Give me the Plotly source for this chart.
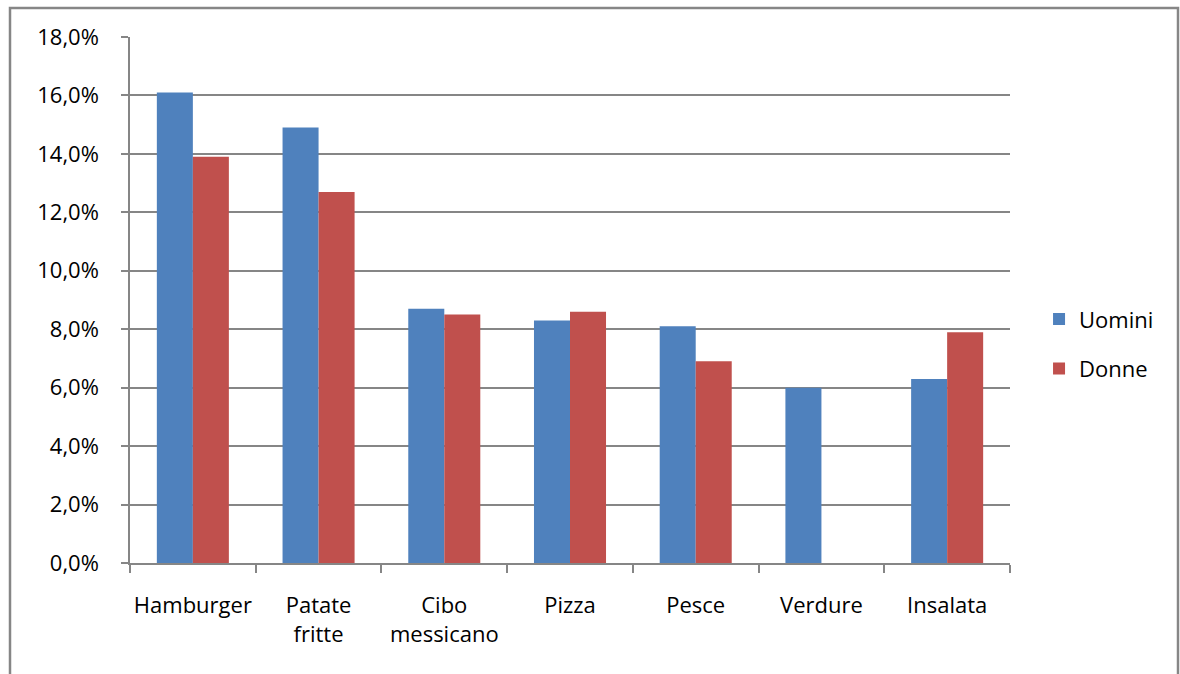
import plotly.graph_objects as go

categories = ["Hamburger", "Patate<br>fritte", "Cibo<br>messicano", "Pizza", "Pesce", "Verdure", "Insalata"]
uomini = [0.161, 0.149, 0.087, 0.083, 0.081, 0.060, 0.063]
donne = [0.139, 0.127, 0.085, 0.086, 0.069, None, 0.079]

BLUE = "#4F81BD"
RED = "#C0504D"
GRID = "#868686"
FONT = "Open Sans"

fig = go.Figure()
fig.add_trace(go.Bar(name="Uomini", x=categories, y=uomini, marker_color=BLUE,
                     marker_line_width=0, legendgroup="u"))
fig.add_trace(go.Bar(name="Donne", x=categories, y=donne, marker_color=RED,
                     marker_line_width=0, legendgroup="d"))

fig.update_layout(
    width=1180, height=674,
    margin=dict(l=130, r=170, t=37, b=111, autoexpand=False),
    paper_bgcolor="white", plot_bgcolor="white",
    barmode="group", bargap=0.427, bargroupgap=0,
    separators=",.",
    font=dict(family=FONT, size=22, color="black"),
    legend=dict(x=1.033, y=0.416, xanchor="left", yanchor="middle",
                font=dict(family=FONT, size=22), tracegroupgap=18,
                itemwidth=30, bgcolor="rgba(0,0,0,0)"),
    showlegend=True,
)

fig.update_yaxes(range=[0, 0.18], dtick=0.02, tickformat=".1%",
                 showgrid=True, gridcolor=GRID, gridwidth=1.5,
                 showline=True, linecolor=GRID, linewidth=1.5,
                 ticks="outside", ticklen=7, tickcolor=GRID, tickwidth=1.5,
                 ticklabelstandoff=18, zeroline=False, automargin=False)
fig.update_xaxes(showline=True, linecolor=GRID, linewidth=1.5,
                 ticks="outside", ticklen=8, tickcolor=GRID, tickwidth=1.5,
                 tickson="boundaries", ticklabelstandoff=22, showgrid=False,
                 tickangle=0, automargin=False)

# outer chart frame
fig.add_shape(type="rect", xref="paper", yref="paper",
              x0=(10 - 130) / 880, x1=(1178 - 130) / 880,
              y0=-0.3, y1=(563 - 8) / 526,
              line=dict(color=GRID, width=2.5), fillcolor="rgba(0,0,0,0)", layer="below")

fig.write_html("out.html")
